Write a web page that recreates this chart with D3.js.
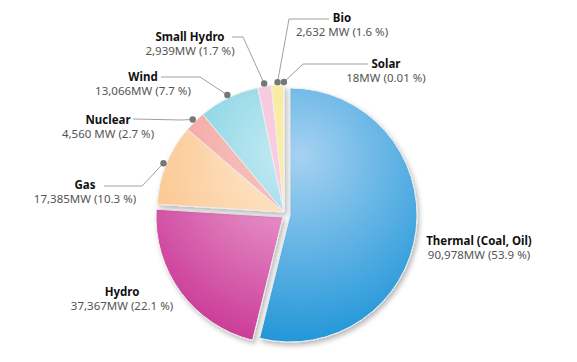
<!DOCTYPE html>
<html>
<head>
<meta charset="utf-8">
<script src="https://cdn.jsdelivr.net/npm/d3@7.9.0/dist/d3.min.js"></script>
<style>
  body { margin: 0; background: #fff; }
  svg { display: block; }
  .name { font-family: "Noto Sans", sans-serif; font-weight: bold; font-size: 11.5px; fill: #111; }
  .val { font-family: "Noto Sans", sans-serif; font-size: 11.5px; fill: #555; }
</style>
</head>
<body>
<svg id="chart" width="577" height="362"></svg>
<script>
// capacity by source (MW), clockwise from 12 o'clock
const sources = ["Thermal (Coal, Oil)", "Hydro", "Gas", "Nuclear", "Wind", "Small Hydro", "Bio", "Solar"];
const capacity = [90978, 37367, 17385, 4560, 13066, 2939, 2632, 18];
const valueLabels = ["90,978MW (53.9 %)", "37,367MW (22.1 %)", "17,385MW (10.3 %)", "4,560 MW (2.7 %)",
                     "13,066MW (7.7 %)", "2,939MW (1.7 %)", "2,632 MW (1.6 %)", "18MW (0.01 %)"];

// light / dark colour of each slice
const lightColors = ["#a6d2f1", "#f0b0d9", "#feebd6", "#f8c8c5", "#c8ecf4", "#f9cde1", "#faeda6", "#78c650"];
const darkColors  = ["#1a93d7", "#c93594", "#fbbd7c", "#f29893", "#62c5dc", "#f7c5dc", "#f8e89a", "#6abf44"];

// layout: slice offset, label centre and leader
const explode = [[6, 3], [-1, 5], [0, 0], [0, 0], [0, 0], [0, 0], [0, 0], [0, 0]];
const labelPos = [[479, 245], [122, 296], [85, 189], [108, 124], [143, 81], [190, 41], [342, 22], [386, 68]];
const leaders = [null, null, [[104, 186], [142, 186]], [[133, 119], [182, 120]], [[161, 77], [200, 77]],
                 [[232, 37], [243, 37]], [[329, 19], [289, 19]], [[368, 64], [303, 64]]];

const cx = 284, cy = 212, radius = 127;
const svg = d3.select("#chart");
const defs = svg.append("defs");

const shadow = defs.append("filter").attr("id", "shadow")
  .attr("x", "-20%").attr("y", "-20%").attr("width", "140%").attr("height", "140%");
shadow.append("feDropShadow").attr("dx", 2).attr("dy", 3).attr("stdDeviation", 2.5)
  .attr("flood-color", "#000").attr("flood-opacity", 0.28);

// one shared radial light, relative to the pie centre
sources.forEach((s, i) => {
  const g = defs.append("radialGradient").attr("id", "grad" + i)
    .attr("gradientUnits", "userSpaceOnUse")
    .attr("cx", 10).attr("cy", -50).attr("r", 190)
    .attr("fx", 10).attr("fy", -60);
  g.append("stop").attr("offset", "0%").attr("stop-color", lightColors[i]);
  g.append("stop").attr("offset", "100%").attr("stop-color", darkColors[i]);
});

const pie = d3.pie().sort(null).value(d => d)(capacity);
const arc = d3.arc().innerRadius(0).outerRadius(radius);

// thermal and hydro are pulled out, the rest stay together
const groups = [[0], [1], [2, 3, 4, 5, 6, 7]];
const pieG = svg.append("g").attr("transform", `translate(${cx},${cy})`);

groups.forEach(idx => {
  const off = explode[idx[0]];
  const g = pieG.append("g")
    .attr("transform", `translate(${off[0]},${off[1]})`)
    .attr("filter", "url(#shadow)");
  g.selectAll("path")
    .data(idx.map(i => pie[i]))
    .join("path")
    .attr("d", arc)
    .attr("fill", d => `url(#grad${d.index})`)
    .attr("stroke", "#eeeeee")
    .attr("stroke-width", 1);
});

// leaders
const lineG = svg.append("g");
pie.forEach((d, i) => {
  if (!leaders[i]) return;
  const a = (d.startAngle + d.endAngle) / 2;
  const dot = [cx + Math.sin(a) * (radius + 3), cy - Math.cos(a) * (radius + 3)];
  lineG.append("path")
    .attr("d", d3.line()(leaders[i].concat([dot])))
    .attr("fill", "none").attr("stroke", "#a0a0a0").attr("stroke-width", 1);
  lineG.append("circle").attr("cx", dot[0]).attr("cy", dot[1]).attr("r", 3.2).attr("fill", "#777");
});

// labels
const labG = svg.append("g").attr("text-anchor", "middle");
sources.forEach((s, i) => {
  const [x, y] = labelPos[i];
  labG.append("text").attr("class", "name").attr("x", x).attr("y", y).text(s);
  labG.append("text").attr("class", "val").attr("x", x).attr("y", y + 14).text(valueLabels[i]);
});
</script>
</body>
</html>
